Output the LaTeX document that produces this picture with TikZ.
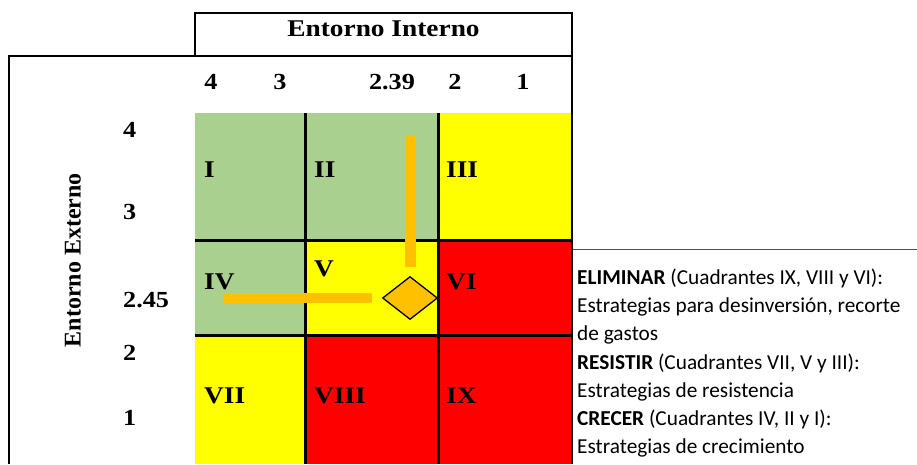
\documentclass[tikz,border=0pt]{standalone}
\usepackage{fontspec}
\setmainfont{Liberation Serif}[FakeStretch=1.14]
\newfontfamily\plainserif{Liberation Serif}
\newfontfamily\legendfont{Carlito}
\usetikzlibrary{shapes.geometric}
\definecolor{cgreen}{HTML}{A9D08E}
\definecolor{cyellow}{HTML}{FFFF00}
\definecolor{cred}{HTML}{FF0000}
\definecolor{corange}{HTML}{FFC000}
\begin{document}
\begin{tikzpicture}[x=1pt, y=-1pt,
  frame/.style={line width=2.5pt},
  gridline/.style={line width=3pt},
  num/.style={font=\fontsize{23}{23}\selectfont\bfseries, inner sep=0},
  roman/.style={font=\fontsize{24}{24}\selectfont\bfseries, anchor=base west, inner sep=0},
  legline/.style={font=\legendfont\fontsize{21.3}{21.3}\selectfont, anchor=base west, inner sep=0},
  bar/.style={draw=corange, line width=11pt}]
   \useasboundingbox (0,0) rectangle (917,464);
   % cells
   \foreach \xa/\xb/\ya/\yb/\col in {195/305.5/113/240/cgreen, 305.5/438.5/113/240/cgreen, 438.5/572/113/240/cyellow,
     195/305.5/240/335/cgreen, 305.5/438.5/240/335/cyellow, 438.5/572/240/335/cred,
     195/305.5/335/464/cyellow, 305.5/438.5/335/464/cred, 438.5/572/335/464/cred}
     \fill[\col] (\xa,\ya) rectangle (\xb,\yb);
   \draw[gridline] (305.5,113) -- (305.5,464);
   \draw[gridline] (438.5,113) -- (438.5,464);
   \draw[gridline] (195,240) -- (572,240);
   \draw[gridline] (195,335) -- (572,335);

   % frame
   \draw[frame] (9,464) -- (9,56) -- (572,56);
   \draw[frame] (195,56) -- (195,13) -- (572,13) -- (572,464);
   \draw[gray!60!black, line width=1pt] (573,249) -- (917,249);

   \node[font=\fontsize{24}{24}\selectfont\bfseries, inner sep=0] (intern) at (383.5,29) {Entorno Interno};
   \node[font=\plainserif\fontsize{24}{24}\selectfont\bfseries, rotate=90] (extern) at (73,260) {Entorno Externo};

   % axis values
   \node[num] (x4) at (211,82) {4};
   \node[num] (x3) at (280,82) {3};
   \node[num] (xp) at (392,82) {2.39};
   \node[num] (x2) at (455,82) {2};
   \node[num] (x1) at (523,82) {1};
   \node[num, anchor=base west] (y4) at (123,137) {4};
   \node[num, anchor=base west] (y3) at (123,219) {3};
   \node[num, anchor=base west] (yp) at (123,307) {2.45};
   \node[num, anchor=base west] (y2) at (123,360) {2};
   \node[num, anchor=base west] (y1) at (123,425) {1};

   % quadrants
   \node[roman] (q1) at (204,177) {I};
   \node[roman] (q2) at (314,177) {II};
   \node[roman] (q3) at (446,177) {III};
   \node[roman] (q4) at (204,289) {IV};
   \node[roman] (q5) at (314,276) {V};
   \node[roman] (q6) at (446,289) {VI};
   \node[roman] (q7) at (204,403) {VII};
   \node[roman] (q8) at (314,403) {VIII};
   \node[roman] (q9) at (446,403) {IX};

   % position
   \node[diamond, draw=black, line width=1.3pt, fill=corange, inner sep=0,
     minimum width=55pt, minimum height=43pt] (pos) at (410,298) {};
   \coordinate (vtop) at (410,136);
   \coordinate (hleft) at (223,298);
   \draw[bar, shorten >=9pt] (vtop) -- (pos.north);
   \draw[bar, line width=10pt, shorten >=10pt] (hleft) -- (pos.west);

   % legend
   \node[legline] (l1) at (577,284) {\textbf{ELIMINAR} (Cuadrantes IX, VIII y VI):};
   \node[legline] (l2) at (577,312) {Estrategias para desinversión, recorte};
   \node[legline] (l3) at (577,340) {de gastos};
   \node[legline] (l4) at (577,369) {\textbf{RESISTIR} (Cuadrantes VII, V y III):};
   \node[legline] (l5) at (577,397) {Estrategias de resistencia};
   \node[legline] (l6) at (577,425) {\textbf{CRECER} (Cuadrantes IV, II y I):};
   \node[legline] (l7) at (577,453) {Estrategias de crecimiento};
\end{tikzpicture}
\end{document}
